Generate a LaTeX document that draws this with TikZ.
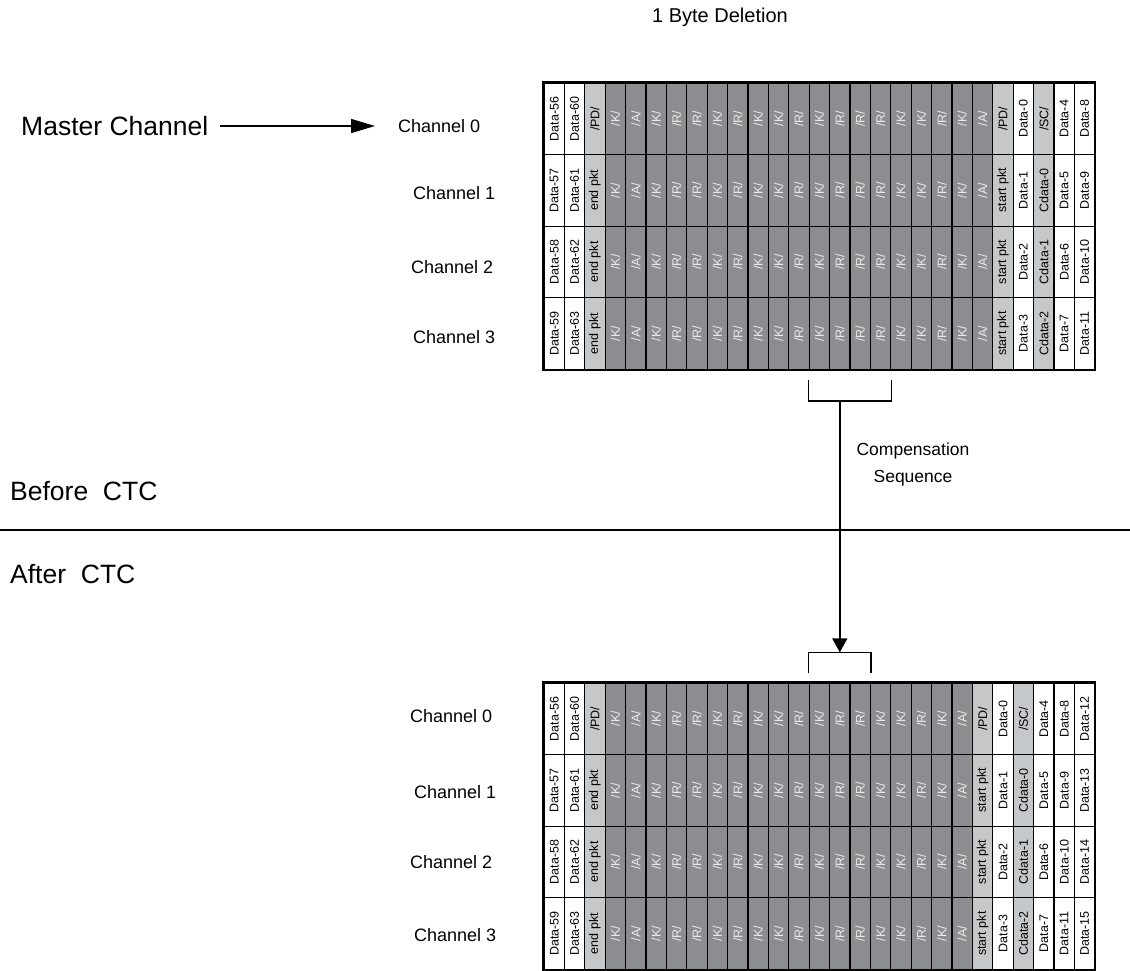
\documentclass[tikz,border=0pt]{standalone}
\usepackage{fontspec}
\setmainfont{Liberation Sans}
\usetikzlibrary{arrows.meta,positioning}

\definecolor{idleGray}{RGB}{140,141,145}
\definecolor{ctrlGray}{RGB}{198,199,201}
\newcommand{\ctc}[1]{/#1/}

\tikzset{
  cell/.style={draw=black,line width=1.3pt,minimum width=20.4pt,minimum height=71.6pt,
    inner sep=0pt,font=\fontsize{12.5}{13}\selectfont},
  datacell/.style={cell,fill=white},
  ctrlcell/.style={cell,fill=ctrlGray},
  idlecell/.style={cell,fill=idleGray,text=white!92!black},
  chlabel/.style={anchor=west,inner sep=0pt,font=\fontsize{18}{20}\selectfont},
  biglabel/.style={anchor=west,inner sep=0pt,font=\fontsize{26.5}{28}\selectfont},
  bracket/.style={line width=1.6pt},
}

\begin{document}
\begin{tikzpicture}[x=1pt,y=-1pt]
\useasboundingbox (0,0) rectangle (1130,971);

% title
\node[font=\fontsize{20}{22}\selectfont] (title) at (720,17) {1 Byte Deletion};

% ---------- before CTC ----------
% idle columns
\foreach \r in {0,...,3}
  \foreach \k [count=\c from 3] in {K,A,K,R,R,K,R,K,K,R,K,R,R,R,K,K,R,K,A}
    \node[idlecell] (t-\r-\c) at ({544+20.4*(\c+0.5)},{83+71.6*(\r+0.5)}) {\rotatebox{90}{/\k/}};

% left columns
\foreach \a/\b/\e [count=\r from 0] in {56/60/\ctc{PD},57/61/end pkt,58/62/end pkt,59/63/end pkt} {
  \node[datacell] (t-\r-0) at ({544+20.4*0.5},{83+71.6*(\r+0.5)}) {\rotatebox{90}{Data-\a}};
  \node[datacell] (t-\r-1) at ({544+20.4*1.5},{83+71.6*(\r+0.5)}) {\rotatebox{90}{Data-\b}};
  \node[ctrlcell] (t-\r-2) at ({544+20.4*2.5},{83+71.6*(\r+0.5)}) {\rotatebox{90}{\e}};
}

% right columns
\foreach \p/\d/\s/\e/\f [count=\r from 0] in {\ctc{PD}/0/\ctc{SC}/4/8,start pkt/1/Cdata-0/5/9,
    start pkt/2/Cdata-1/6/10,start pkt/3/Cdata-2/7/11} {
  \node[ctrlcell] (t-\r-22) at ({544+20.4*22.5},{83+71.6*(\r+0.5)}) {\rotatebox{90}{\p}};
  \node[datacell] (t-\r-23) at ({544+20.4*23.5},{83+71.6*(\r+0.5)}) {\rotatebox{90}{Data-\d}};
  \node[ctrlcell] (t-\r-24) at ({544+20.4*24.5},{83+71.6*(\r+0.5)}) {\rotatebox{90}{\s}};
  \node[datacell] (t-\r-25) at ({544+20.4*25.5},{83+71.6*(\r+0.5)}) {\rotatebox{90}{Data-\e}};
  \node[datacell] (t-\r-26) at ({544+20.4*26.5},{83+71.6*(\r+0.5)}) {\rotatebox{90}{Data-\f}};
}
\draw[line width=1.8pt] (t-0-0.north west) rectangle (t-3-26.south east);

% channel names
\node[chlabel] (tch0) at (398,126) {Channel 0};
\node[chlabel] (tch1) at (413,193) {Channel 1};
\node[chlabel] (tch2) at (411,267) {Channel 2};
\node[chlabel] (tch3) at (413,337) {Channel 3};

% master channel arrow
\node[biglabel] (master) at (21,126) {Master Channel};
\draw[line width=1.4pt,-{Triangle[length=24pt,width=14pt]},shorten <=12pt,shorten >=23pt]
  (master.east) -- (master.east -| tch0.west);

% ---------- after CTC ----------
% idle columns
\foreach \r in {0,...,3}
  \foreach \k [count=\c from 3] in {K,A,K,R,R,K,R,K,K,R,K,R,R,K,K,R,K,A}
    \node[idlecell] (b-\r-\c) at ({544+20.4*(\c+0.5)},{683+71.6*(\r+0.5)}) {\rotatebox{90}{/\k/}};

% left columns
\foreach \a/\b/\e [count=\r from 0] in {56/60/\ctc{PD},57/61/end pkt,58/62/end pkt,59/63/end pkt} {
  \node[datacell] (b-\r-0) at ({544+20.4*0.5},{683+71.6*(\r+0.5)}) {\rotatebox{90}{Data-\a}};
  \node[datacell] (b-\r-1) at ({544+20.4*1.5},{683+71.6*(\r+0.5)}) {\rotatebox{90}{Data-\b}};
  \node[ctrlcell] (b-\r-2) at ({544+20.4*2.5},{683+71.6*(\r+0.5)}) {\rotatebox{90}{\e}};
}

% right columns
\foreach \p/\d/\s/\e/\f/\g [count=\r from 0] in {\ctc{PD}/0/\ctc{SC}/4/8/12,start pkt/1/Cdata-0/5/9/13,
    start pkt/2/Cdata-1/6/10/14,start pkt/3/Cdata-2/7/11/15} {
  \node[ctrlcell] (b-\r-21) at ({544+20.4*21.5},{683+71.6*(\r+0.5)}) {\rotatebox{90}{\p}};
  \node[datacell] (b-\r-22) at ({544+20.4*22.5},{683+71.6*(\r+0.5)}) {\rotatebox{90}{Data-\d}};
  \node[ctrlcell] (b-\r-23) at ({544+20.4*23.5},{683+71.6*(\r+0.5)}) {\rotatebox{90}{\s}};
  \node[datacell] (b-\r-24) at ({544+20.4*24.5},{683+71.6*(\r+0.5)}) {\rotatebox{90}{Data-\e}};
  \node[datacell] (b-\r-25) at ({544+20.4*25.5},{683+71.6*(\r+0.5)}) {\rotatebox{90}{Data-\f}};
  \node[datacell] (b-\r-26) at ({544+20.4*26.5},{683+71.6*(\r+0.5)}) {\rotatebox{90}{Data-\g}};
}
\draw[line width=1.8pt] (b-0-0.north west) rectangle (b-3-26.south east);

% channel names
\node[chlabel] (bch0) at (410,716) {Channel 0};
\node[chlabel] (bch1) at (414,792) {Channel 1};
\node[chlabel] (bch2) at (410,862) {Channel 2};
\node[chlabel] (bch3) at (414,935) {Channel 3};

% ---------- compensation sequence ----------
\coordinate[below=10pt of t-3-13.south west] (tbA);
\coordinate[below=10pt of t-3-16.south east] (tbB);
\draw[bracket] (tbA) -- ++(0,21) coordinate (tbL) -- (tbL -| tbB) -- (tbB);

\coordinate[above=9pt of b-0-13.north west] (bbA);
\coordinate[above=9pt of b-0-15.north east] (bbB);
\draw[bracket] (bbA) -- ++(0,-21) coordinate (bbL) -- (bbL -| bbB) coordinate (bbR) -- (bbB);
\path (bbL) -- coordinate (bbM) (bbR);

\draw[line width=1.4pt,-{Triangle[length=14pt,width=15pt]}] (bbM |- tbL) -- (bbM);

\node[align=center,font=\fontsize{17.5}{27}\selectfont] (comp) at (913,464) {Compensation\\Sequence};

% before / after
\node[biglabel] (before) at (10,491) {Before\ \ CTC};
\node[biglabel] (after) at (10,574) {After\ \ CTC};
\coordinate (sepL) at (0,530);
\coordinate (sepR) at (1130,530);
\draw[line width=1.2pt] (sepL) -- (sepR);

\end{tikzpicture}
\end{document}
